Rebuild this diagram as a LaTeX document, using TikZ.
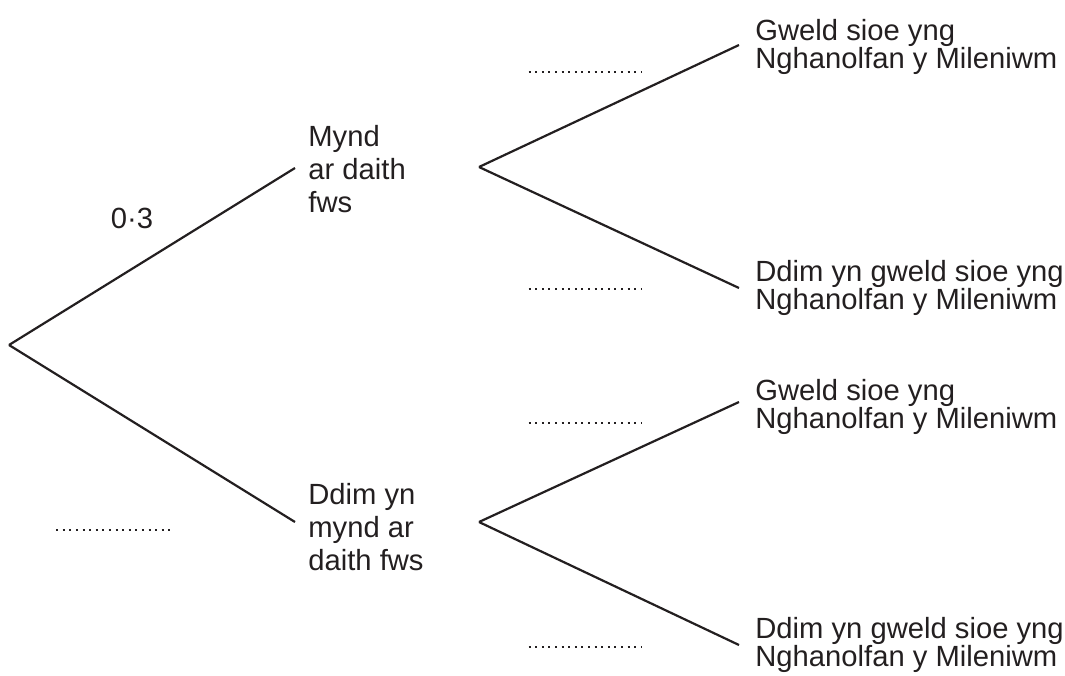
\documentclass[tikz,border=0pt]{standalone}
\usepackage{fontspec}
\setmainfont{Liberation Sans}
\usetikzlibrary{positioning}
\definecolor{ink}{RGB}{35,31,32}

\begin{document}
\begin{tikzpicture}[x=0.5pt, y=-0.5pt]
    \tikzstyle{stage}=[anchor=west, align=left, inner xsep=6.5pt, inner ysep=0pt, text=ink, font=\fontsize{14.6}{16.6}\selectfont];
    \tikzstyle{outcome}=[anchor=west, align=left, inner xsep=8pt, inner ysep=0pt, text=ink, font=\fontsize{14.6}{14}\selectfont];
    \tikzstyle{blank}=[inner sep=0pt, minimum width=56.5pt, minimum height=0pt];
    \tikzstyle{branch}=[draw=ink, line width=1.1pt];
    \tikzstyle{dots}=[draw=ink, line width=1pt, dash pattern=on 1pt off 2.3pt];

    \useasboundingbox (0,0) rectangle (1065,675);

    % forks
    \coordinate (root) at (9,345);
    \coordinate (bus) at (295,168);
    \coordinate (nobus) at (295,522);
    \coordinate (busfork) at (479,167);
    \coordinate (nobusfork) at (479,522);
    \coordinate (busshow) at (739,45);
    \coordinate (busnoshow) at (739,288);
    \coordinate (nobusshow) at (739,402);
    \coordinate (nobusnoshow) at (739,645);

    % first stage
    \node[stage, yshift=-0.5pt] (busTxt) at (bus) {Mynd\\ar daith\\fws};
    \node[stage, yshift=-2.5pt] (nobusTxt) at (nobus) {Ddim yn\\mynd ar\\daith fws};
    \node[text=ink, font=\fontsize{14.6}{14}\selectfont] (pBus) at (132,218) {0·3};

    % second stage
    \node[outcome, yshift=-1pt] (busshowTxt) at (busshow) {Gweld sioe yng\\Nghanolfan y Mileniwm};
    \node[outcome] (busnoshowTxt) at (busnoshow) {Ddim yn gweld sioe yng\\Nghanolfan y Mileniwm};
    \node[outcome, yshift=-2.5pt] (nobusshowTxt) at (nobusshow) {Gweld sioe yng\\Nghanolfan y Mileniwm};
    \node[outcome] (nobusnoshowTxt) at (nobusnoshow) {Ddim yn gweld sioe yng\\Nghanolfan y Mileniwm};

    % blanks to fill in
    \node[blank] (pNobus) at (113,530) {};
    \node[blank] (pBusshow) at (585.5,72) {};
    \node[blank] (pBusnoshow) at (585.5,289) {};
    \node[blank] (pNobusshow) at (585.5,423) {};
    \node[blank] (pNobusnoshow) at (585.5,647) {};

    \draw[branch]
        (root) edge (bus)
        (root) edge (nobus)
        (busfork) edge (busshow)
        (busfork) edge (busnoshow)
        (nobusfork) edge (nobusshow)
        (nobusfork) edge (nobusnoshow)
    ;

    \draw[dots] (pNobus.west) -- (pNobus.east);
    \draw[dots] (pBusshow.west) -- (pBusshow.east);
    \draw[dots] (pBusnoshow.west) -- (pBusnoshow.east);
    \draw[dots] (pNobusshow.west) -- (pNobusshow.east);
    \draw[dots] (pNobusnoshow.west) -- (pNobusnoshow.east);
\end{tikzpicture}
\end{document}
